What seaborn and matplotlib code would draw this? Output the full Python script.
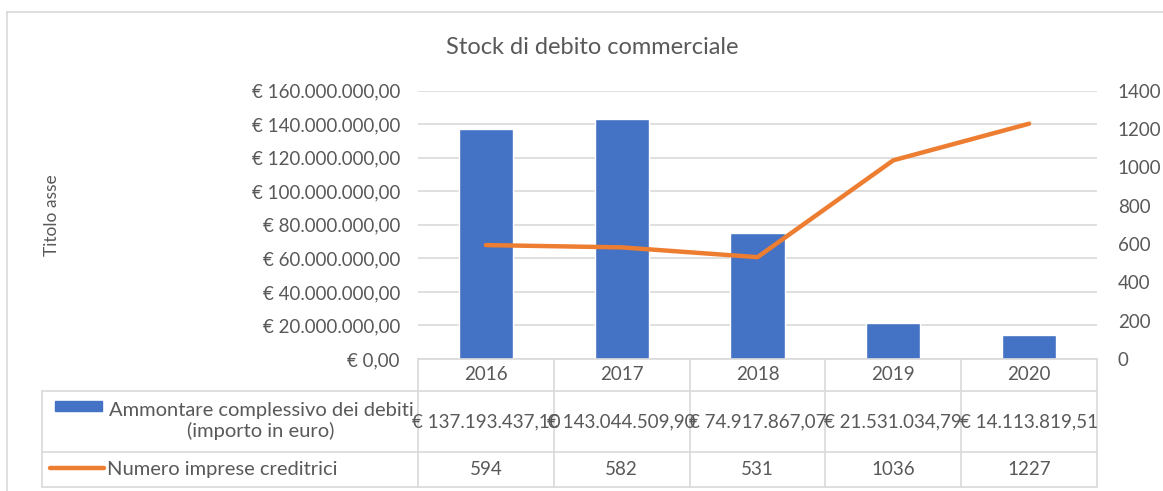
import numpy as np
import pandas as pd
import matplotlib
matplotlib.use("Agg")
import matplotlib.pyplot as plt
import seaborn as sns
from matplotlib.lines import Line2D
from matplotlib.patches import Rectangle
from matplotlib.transforms import blended_transform_factory
from matplotlib.ticker import FuncFormatter, MultipleLocator

# ---- data ----
anni = ["2016", "2017", "2018", "2019", "2020"]
debiti = [137193437.10, 143044509.90, 74917867.07, 21531034.79, 14113819.51]
imprese = [594, 582, 531, 1036, 1227]
serie_debiti = "Ammontare complessivo dei debiti\n(importo in euro)"
serie_imprese = "Numero imprese creditrici"
titolo = "Stock di debito commerciale"
titolo_asse = "Titolo asse"

sns.set_theme(style="white")
plt.rcParams["font.family"] = ["Lato", "DejaVu Sans"]

TXT = "#595959"
GRID = "#d9d9d9"
BLUE = "#4472C4"
ORANGE = "#ED7D31"
FS = 13.5

W, H = 1163, 491
fig = plt.figure(figsize=(W / 100, H / 100), dpi=100)

def fx(px):
    return px / W

def fy(py):
    return 1 - py / H

ax_l, ax_r, ax_t, ax_b = 418, 1097, 90.5, 359
ax = fig.add_axes([fx(ax_l), fy(ax_b), fx(ax_r - ax_l), (ax_b - ax_t) / H])

df = pd.DataFrame({"anno": anni, "debiti": debiti, "imprese": imprese, "idx": np.arange(len(anni))})

sns.barplot(data=df, x="anno", y="debiti", color=BLUE, saturation=1, width=0.4, ax=ax, zorder=3)
ax.set_xlim(-0.5, len(anni) - 0.5)
ax.set_ylim(0, 160e6)
ax.yaxis.set_major_locator(MultipleLocator(20e6))

def eur(v, pos=None):
    s = f"{v:,.2f}"
    s = s.replace(",", "X").replace(".", ",").replace("X", ".")
    return f"€ {s}"

ax.yaxis.set_major_formatter(FuncFormatter(eur))
ax.grid(axis="y", color=GRID, lw=1.2, zorder=0)
ax.set_axisbelow(True)
for sp in ax.spines.values():
    sp.set_visible(False)
ax.set_xticks([])
ax.set_xlabel("")
ax.set_ylabel("")

ax2 = ax.twinx()
sns.lineplot(data=df, x="idx", y="imprese", color=ORANGE, lw=3.2, ax=ax2, zorder=4)
ax2.set_ylim(0, 1400)
ax2.yaxis.set_major_locator(MultipleLocator(200))
for sp in ax2.spines.values():
    sp.set_visible(False)
ax2.set_xlim(-0.5, len(anni) - 0.5)
ax2.set_xlabel("")
ax2.set_ylabel("")
ax2.set_xticks([])

ax.yaxis.set_tick_params(length=0, pad=13, labelsize=FS, labelcolor=TXT)
ax2.yaxis.set_tick_params(length=0, pad=15, labelsize=FS, labelcolor=TXT)

# title & axis title
fig.text(fx(592), fy(47), titolo, ha="center", va="center", fontsize=17, color=TXT)
fig.text(fx(52), fy(215), titolo_asse, ha="center", va="center", rotation=90, fontsize=12.5, color=TXT)

# frame of the chart area
fig.add_artist(Line2D([fx(6.5), 1], [fy(11.5), fy(11.5)], color=GRID, lw=1.2))
fig.add_artist(Line2D([fx(6.5), fx(6.5)], [fy(11.5), 0], color=GRID, lw=1.2))

# data table
tr = blended_transform_factory(ax.transData, fig.transFigure)
row_year = (359, 391)
row_deb = (391, 452)
row_imp = (452, 487)
tab_left = 42
edges = np.arange(len(anni) + 1) - 0.5
for e in edges:
    fig.add_artist(Line2D([e, e], [fy(359), fy(487)], color=GRID, lw=1.2, transform=tr, clip_on=False))
for yy in (391, 452, 487):
    fig.add_artist(Line2D([fx(tab_left), fx(ax_r)], [fy(yy), fy(yy)], color=GRID, lw=1.2))
fig.add_artist(Line2D([fx(tab_left), fx(tab_left)], [fy(391), fy(487)], color=GRID, lw=1.2))
fig.add_artist(Line2D([fx(ax_l), fx(ax_r)], [fy(359), fy(359)], color=GRID, lw=1.2))

for i, (a, d, n) in enumerate(zip(anni, debiti, imprese)):
    fig.text(i, fy(sum(row_year) / 2), a, ha="center", va="center", fontsize=FS, color=TXT, transform=tr)
    fig.text(i, fy(sum(row_deb) / 2), eur(d), ha="center", va="center", fontsize=FS, color=TXT, transform=tr)
    fig.text(i, fy(sum(row_imp) / 2), str(n), ha="center", va="center", fontsize=FS, color=TXT, transform=tr)

# legend keys in table
fig.add_artist(Rectangle((fx(55), fy(411)), fx(47), 10 / H, color=BLUE))
fig.text(fx(261), fy(421), serie_debiti, ha="center", va="center", fontsize=14.5, color=TXT, multialignment="center", linespacing=1.15)
fig.add_artist(Line2D([fx(50), fx(104)], [fy(468), fy(468)], color=ORANGE, lw=3.2, solid_capstyle="round"))
fig.text(fx(107), fy(469), serie_imprese, ha="left", va="center", fontsize=14.5, color=TXT)

fig.savefig("out.png", dpi=100)
